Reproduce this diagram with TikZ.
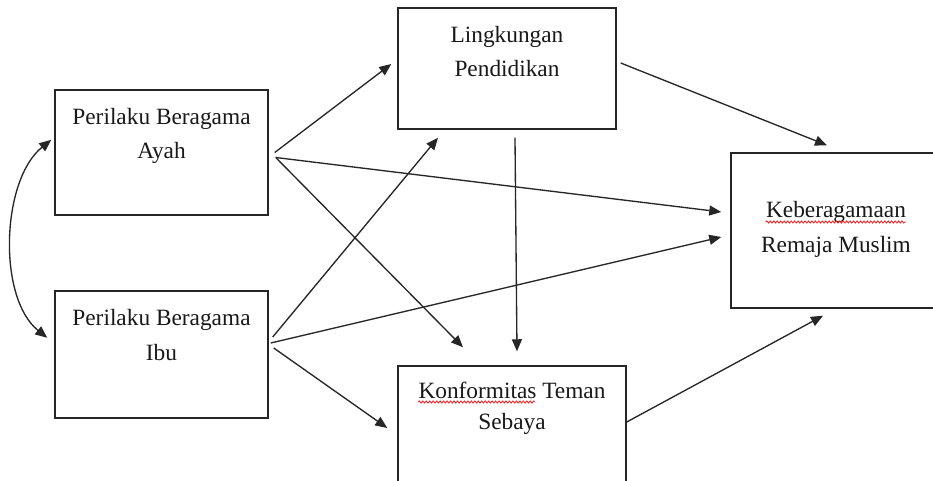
\documentclass[tikz,border=0pt]{standalone}
\usepackage{fontspec}
\setmainfont{Liberation Serif}
\usetikzlibrary{arrows.meta,calc,decorations.pathmorphing}
\tikzset{
  varbox/.style={draw=black!85, line width=1.1pt, rectangle, inner sep=0pt},
  lbl/.style={anchor=base, inner sep=0pt, font=\fontsize{17.5}{21}\selectfont, text=black!90},
  link/.style={draw=black!85, line width=1pt, -{Triangle[length=9pt,width=7.5pt]}},
  twoway/.style={draw=black!85, line width=1pt, {Triangle[length=9pt,width=7.5pt]}-{Triangle[length=9pt,width=7.5pt]}},
  wavy/.style={draw=red!90, line width=0.6pt, decorate, decoration={snake, amplitude=0.8pt, segment length=2.6pt}}
}
\begin{document}
\begin{tikzpicture}[x=0.75pt, y=-0.75pt]
  \useasboundingbox[fill=white] (0,0) rectangle (933,481);

  % variable boxes
  \node[varbox, minimum width=159.75pt, minimum height=93.75pt] (ayah) at (161.5,152.5) {};
  \node[varbox, minimum width=159.75pt, minimum height=95.25pt] (ibu) at (161.5,354.5) {};
  \node[varbox, minimum width=163.5pt, minimum height=90.75pt] (ling) at (507,68.5) {};
  \node[varbox, minimum width=157.5pt, minimum height=116.25pt] (kebe) at (836,230.5) {};
  \node[varbox, minimum width=171pt, minimum height=100.5pt] (konf) at (512,433) {};

  % labels
  \node[lbl] (ayah1) at (161.5,125) {Perilaku Beragama};
  \node[lbl] (ayah2) at (161.5,159) {Ayah};
  \node[lbl] (ibu1) at (161.5,326) {Perilaku Beragama};
  \node[lbl] (ibu2) at (161.5,361) {Ibu};
  \node[lbl] (ling1) at (507,43) {Lingkungan};
  \node[lbl] (ling2) at (507,77) {Pendidikan};
  \node[lbl] (kebe1) at (836,218) {Keberagamaan};
  \node[lbl] (kebe2) at (836,253) {Remaja Muslim};
  \node[lbl] (konf1) at (512,398) {Konformitas Teman};
  \node[lbl] (konf2) at (512,430) {Sebaya};

  % spelling marks under two words
  \draw[wavy] ($(kebe1.base west)+(0,4)$) -- ($(kebe1.base east)+(0,4)$);
  \draw[wavy] ($(konf1.base west)+(0,4)$) -- ($(konf1.base west)!0.624!(konf1.base east)+(0,4)$);

  % correlation between the two parents
  \draw[twoway] ($(ayah.north west)!0.4!(ayah.south west)+(-3,0)$)
    .. controls +(-50,40) and +(-50,-40) ..
    ($(ibu.north west)!0.37!(ibu.south west)+(-7,0)$);

  % paths from Ayah
  \draw[link] ($(ayah.east)+(6,0)$) -- ($(ling.west)+(-6,-4.5)$);
  \draw[link] ($(ayah.east)+(7,5)$) -- ($(kebe.west)+(-9,-18.5)$);
  \draw[link] ($(ayah.east)+(7,5)$) -- ($(konf.north)+(-49,-18)$);

  % paths from Ibu
  \draw[link] ($(ibu.east)+(4,-17.5)$) -- ($(ling.south)+(-69,8)$);
  \draw[link] ($(ibu.east)+(2,-11.5)$) -- ($(kebe.west)+(-9,6.5)$);
  \draw[link] ($(ibu.east)+(5,-6.5)$) -- ($(konf.west)+(-10,-5)$);

  % mediators
  \draw[link] ($(ling.south)+(8,8)$) -- ($(konf.north)+(5,-14)$);
  \draw[link] ($(ling.east)+(4,-5.5)$) -- ($(kebe.north)+(-9,-7)$);
  \draw[link] ($(konf.east)+(0,-11)$) -- ($(kebe.south)+(-13,7)$);
\end{tikzpicture}
\end{document}
